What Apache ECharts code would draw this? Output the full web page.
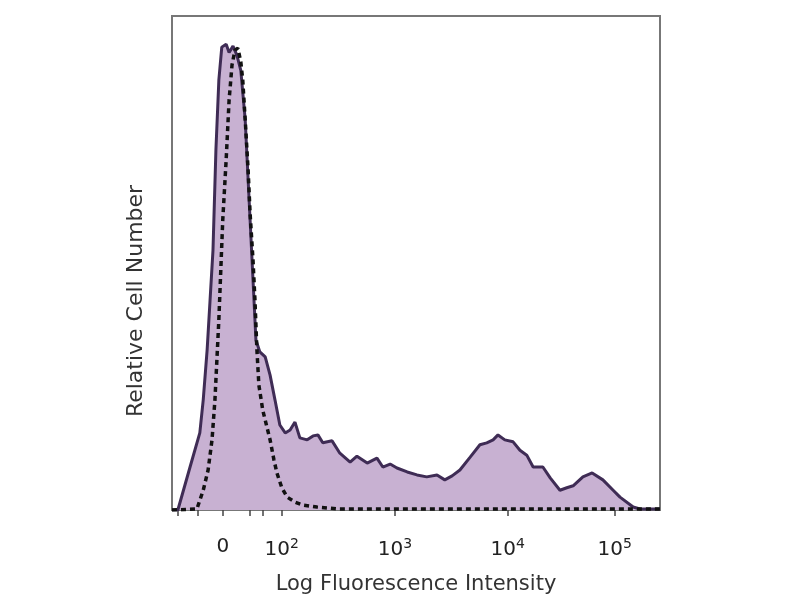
<!DOCTYPE html>
<html>
<head>
<meta charset="utf-8">
<script src="https://cdn.jsdelivr.net/npm/echarts@6/dist/echarts.min.js"></script>
<style>html,body{margin:0;padding:0;background:#fff;}#c{width:800px;height:600px;}</style>
</head>
<body>
<div id="c"></div>
<script>
// x in display channels (0-1000, log-like fluorescence scale); y = relative cell number (0-100)
const solidX = [0,12,37,57,64,72,78,84,90,96,102,111,117,125,133,141,150,158,166,172,180,191,201,211,221,232,242,252,262,277,289,299,309,328,344,365,379,400,420,432,447,461,482,502,522,543,559,574,590,611,631,645,658,668,682,699,713,727,740,760,775,795,809,822,842,861,883,904,918,945,959,1000];
const solidY = [0,0,8.7,15.6,22.3,32.4,42.5,52.6,72.9,87,93.7,94.3,92.6,93.9,92.1,89,79,62.8,46.6,34.4,32,31,27.3,22.3,17.2,15.6,16.2,17.8,14.6,14.2,15,15.2,13.6,14,11.5,9.7,10.9,9.5,10.5,8.7,9.3,8.5,7.7,7.1,6.7,7.1,6.1,6.9,8.1,10.7,13.2,13.6,14.2,15.2,14.2,13.8,12.1,11.1,8.7,8.7,6.5,4,4.5,4.9,6.7,7.5,6.1,4,2.6,0.6,0.2,0.2];
const dashedX = [0,51,64,74,82,88,92,96,100,104,111,117,123,129,135,141,145,150,156,160,166,170,174,178,186,195,201,209,215,225,236,252,268,297,344,1000];
const dashedY = [0,0.2,4,8.1,14.2,22.3,30.4,38.5,48.6,58.7,70.9,83,90.1,93.1,93.5,90.7,87,79,68.8,60.1,50.6,42.5,32.4,25.3,20.2,16.6,14.2,10.1,7.5,4.5,2.6,1.6,1,0.6,0.2,0.2];
const tickPositions = [12,53,104,160,186,225,457,688,907];
const labelPositions = [104,225,457,688,907];
const labelTexts = ['0','{b|10}{s|2}','{b|10}{s|3}','{b|10}{s|4}','{b|10}{s|5}'];
const xTitle = 'Log Fluorescence Intensity';
const yTitle = 'Relative Cell Number';

const solidData = solidX.map((x, i) => [x, solidY[i]]);
const dashedData = dashedX.map((x, i) => [x, dashedY[i]]);
const FONT = 'DejaVu Sans';

const chart = echarts.init(document.getElementById('c'), null, {renderer: 'canvas'});
chart.setOption({
  animation: false,
  backgroundColor: '#fff',
  grid: {left: 172, right: 140, top: 16, bottom: 90, show: true, borderColor: '#777', borderWidth: 2, backgroundColor: 'transparent'},
  xAxis: {
    type: 'value', min: 0, max: 1000,
    name: xTitle, nameLocation: 'middle', nameGap: 64,
    nameTextStyle: {fontFamily: FONT, fontSize: 21, color: '#333'},
    axisLine: {show: false},
    splitLine: {show: false},
    axisTick: {show: true, customValues: tickPositions, length: 6, lineStyle: {color: '#444', width: 1.5}},
    axisLabel: {
      customValues: labelPositions,
      margin: 27,
      formatter: (v) => labelTexts[labelPositions.indexOf(v)],
      color: '#222', fontFamily: FONT, fontSize: 20,
      rich: {
        b: {fontFamily: FONT, fontSize: 20, color: '#222'},
        s: {fontFamily: FONT, fontSize: 14, color: '#222', verticalAlign: 'top', padding: [0,0,12,0]}
      }
    }
  },
  yAxis: {
    type: 'value', min: 0, max: 100,
    axisLine: {show: false}, axisTick: {show: false}, axisLabel: {show: false}, splitLine: {show: false}
  },
  graphic: [{
    type: 'text', x: 136, y: 301, rotation: Math.PI / 2,
    style: {text: yTitle, fontFamily: FONT, fontSize: 22, fill: '#333', textAlign: 'center', textVerticalAlign: 'middle'}
  }],
  series: [
    {
      type: 'line', data: solidData, symbol: 'none', smooth: false, z: 2,
      lineStyle: {color: '#3f2c55', width: 3},
      areaStyle: {color: '#c8b1d2', opacity: 1}
    },
    {
      type: 'line', data: dashedData, symbol: 'none', smooth: false, z: 3,
      lineStyle: {color: '#111', width: 3.5, type: [5, 4]}
    }
  ]
});
</script>
</body>
</html>
